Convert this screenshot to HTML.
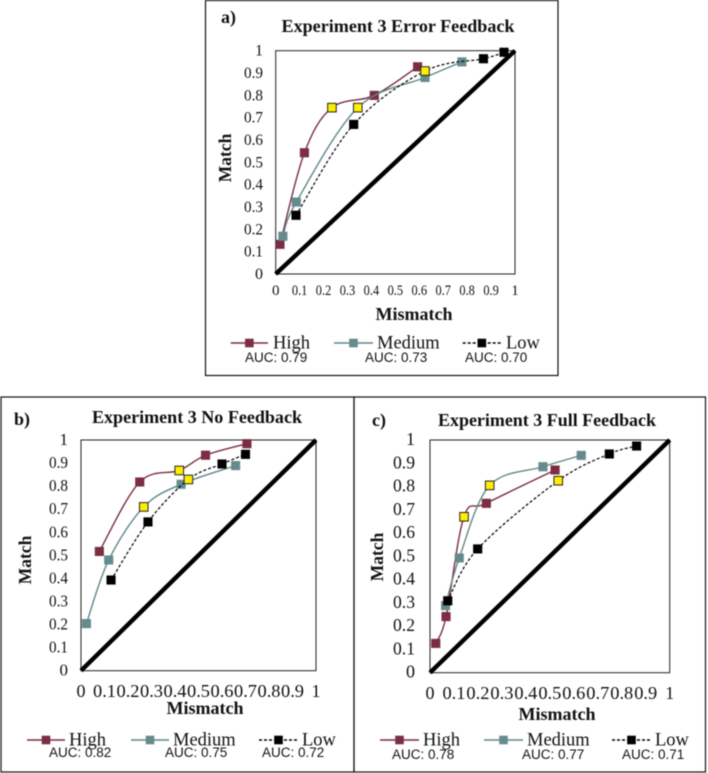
<!DOCTYPE html>
<html lang="en">
<head>
<meta charset="utf-8">
<title>Experiment 3 ROC Curves</title>
<style>
html,body{margin:0;padding:0;background:#fff;width:708px;height:773px;overflow:hidden}
svg{display:block;filter:blur(0.45px)}
text{fill:#111;font-family:"Liberation Serif",serif}
.title,.axis{font-weight:bold}
.letter{font-weight:bold;font-size:18px}
.auc{font-family:"Liberation Sans",sans-serif;font-size:13.5px}
.leg{font-size:18.5px}
</style>
</head>
<body>
<svg id="fig" width="708" height="773" viewBox="0 0 708 773" xmlns="http://www.w3.org/2000/svg">
  <g fill="none" stroke="#111" stroke-width="1.2">
    <rect x="205.5" y="0.5" width="352.5" height="375"/>
    <rect x="1" y="397" width="353" height="375"/>
    <rect x="354" y="397" width="351.5" height="375"/>
  </g>
  <g id="panel-a">
    <text class="letter" x="221" y="23">a)</text>
    <text class="title" x="398" y="32" text-anchor="middle" font-size="17.5" textLength="233" lengthAdjust="spacingAndGlyphs">Experiment 3 Error Feedback</text>
    <text class="axis" x="414" y="320" text-anchor="middle" font-size="18">Mismatch</text>
    <text class="axis" transform="translate(231,158) rotate(-90)" text-anchor="middle" font-size="17.5">Match</text>
    <text class="auc" x="245" y="362">AUC: 0.79</text>
    <text class="auc" x="365" y="362">AUC: 0.73</text>
    <text class="auc" x="465" y="362">AUC: 0.70</text>
  </g>
  <g id="panel-b">
    <text class="letter" x="14" y="425">b)</text>
    <text class="title" x="197" y="423" text-anchor="middle" font-size="17.5" textLength="210" lengthAdjust="spacingAndGlyphs">Experiment 3 No Feedback</text>
    <text class="axis" x="205" y="714" text-anchor="middle" font-size="18">Mismatch</text>
    <text class="axis" transform="translate(31,560) rotate(-90)" text-anchor="middle" font-size="17.5">Match</text>
    <text class="auc" x="49" y="757">AUC: 0.82</text>
    <text class="auc" x="165" y="757">AUC: 0.75</text>
    <text class="auc" x="262" y="757">AUC: 0.72</text>
  </g>
  <g id="panel-c">
    <text class="letter" x="372" y="426">c)</text>
    <text class="title" x="547" y="426" text-anchor="middle" font-size="17.5" textLength="218" lengthAdjust="spacingAndGlyphs">Experiment 3 Full Feedback</text>
    <text class="axis" x="557" y="720" text-anchor="middle" font-size="18">Mismatch</text>
    <text class="axis" transform="translate(383,557) rotate(-90)" text-anchor="middle" font-size="17.5">Match</text>
    <text class="auc" x="392" y="759">AUC: 0.78</text>
    <text class="auc" x="522" y="759">AUC: 0.77</text>
    <text class="auc" x="622" y="759">AUC: 0.71</text>
  </g>
</svg>
<script>
const tickLabels = ['0','0.1','0.2','0.3','0.4','0.5','0.6','0.7','0.8','0.9','1'];
const tickValues = [0,0.1,0.2,0.3,0.4,0.5,0.6,0.7,0.8,0.9,1];
const seriesNames = ['High','Medium','Low'];

const aHighX = [0.018,0.12,0.235,0.412,0.593];
const aHighY = [0.133,0.543,0.745,0.80,0.928];
const aMediumX = [0.03,0.086,0.343,0.624,0.778];
const aMediumY = [0.169,0.322,0.745,0.88,0.95];
const aLowX = [0.085,0.326,0.624,0.868,0.954];
const aLowY = [0.263,0.67,0.909,0.964,0.993];

const bHighX = [0.078,0.25,0.418,0.53,0.706];
const bHighY = [0.517,0.818,0.868,0.934,0.984];
const bMediumX = [0.023,0.118,0.267,0.426,0.658];
const bMediumY = [0.204,0.48,0.71,0.808,0.889];
const bLowX = [0.128,0.285,0.457,0.6,0.70];
const bLowY = [0.393,0.645,0.829,0.896,0.938];

const cHighX = [0.024,0.067,0.142,0.235,0.522];
const cHighY = [0.126,0.241,0.67,0.728,0.871];
const cMediumX = [0.065,0.122,0.249,0.471,0.631];
const cMediumY = [0.288,0.493,0.805,0.885,0.934];
const cLowX = [0.074,0.199,0.535,0.748,0.862];
const cLowY = [0.309,0.532,0.825,0.94,0.974];

/* index of the point highlighted in yellow (the same in every series) */
const highlightIndex = 2;

const NS = 'http://www.w3.org/2000/svg';
const COLORS = {High:'#7b2d42', Medium:'#5f8789', Low:'#000'};
const MARKS = {High:'#7b2d42', Medium:'#668b8d', Low:'#000'};
const MARK = 8.6;

const panels = [
  {id:'panel-a', left:275.7, right:515, top:50.7, bottom:274, xBase:295, yRight:263, xFont:15, yFont:16, xW:15.5, yW:19,
   data:[[aHighX,aHighY],[aMediumX,aMediumY],[aLowX,aLowY]],
   legY:343, legBase:348.5, leg:[[230.7,268,273],[334,373,377],[462.7,501,506]]},
  {id:'panel-b', left:81, right:316, top:440, bottom:670.7, xBase:697, yRight:68, xFont:18, yFont:17, xW:23, yW:19,
   data:[[bHighX,bHighY],[bMediumX,bMediumY],[bLowX,bLowY]],
   legY:740, legBase:745.7, leg:[[27,65,69],[131,169,173],[259,298,302]]},
  {id:'panel-c', left:430, right:669.7, top:440, bottom:672.7, xBase:699, yRight:415, xFont:18, yFont:18, xW:23, yW:22,
   data:[[cHighX,cHighY],[cMediumX,cMediumY],[cLowX,cLowY]],
   legY:740, legBase:745.7, leg:[[380,419,423],[484,523,527],[612,651,655]]}
];

function make(tag, attrs, parent){
  const el = document.createElementNS(NS, tag);
  for (const k in attrs) el.setAttribute(k, attrs[k]);
  parent.appendChild(el);
  return el;
}

function smoothPath(pts){
  let d = 'M' + pts[0][0] + ' ' + pts[0][1];
  for (let i = 0; i < pts.length - 1; i++){
    const p0 = pts[Math.max(i-1,0)], p1 = pts[i], p2 = pts[i+1], p3 = pts[Math.min(i+2,pts.length-1)];
    const c1x = p1[0] + (p2[0]-p0[0])/6, c1y = p1[1] + (p2[1]-p0[1])/6;
    const c2x = p2[0] - (p3[0]-p1[0])/6, c2y = p2[1] - (p3[1]-p1[1])/6;
    d += 'C' + c1x + ' ' + c1y + ' ' + c2x + ' ' + c2y + ' ' + p2[0] + ' ' + p2[1];
  }
  return d;
}

panels.forEach(function(p){
  const g = document.getElementById(p.id);
  const sx = function(v){ return p.left + v*(p.right-p.left); };
  const sy = function(v){ return p.bottom - v*(p.bottom-p.top); };

  const plot = make('rect',{x:p.left,y:p.top,width:p.right-p.left,height:p.bottom-p.top,fill:'#fff',stroke:'#222','stroke-width':1},g);
  
  

  const diag = make('line',{x1:sx(0),y1:sy(0),x2:sx(1),y2:sy(1),stroke:'#000','stroke-width':4.4},g);
  
  

  tickLabels.forEach(function(label,i){
    const xt = make('text',{x:sx(tickValues[i]),y:p.xBase,'text-anchor':'middle','font-size':p.xFont},g);
    if (label.length > 1){ xt.setAttribute('textLength',p.xW); xt.setAttribute('lengthAdjust','spacingAndGlyphs'); }
    xt.textContent = label;
    
    

    const yt = make('text',{x:p.yRight,y:sy(tickValues[i])+5,'text-anchor':'end','font-size':p.yFont},g);
    if (label.length > 1){ yt.setAttribute('textLength',p.yW); yt.setAttribute('lengthAdjust','spacingAndGlyphs'); }
    yt.textContent = label;
    
    
  });

  seriesNames.forEach(function(name,s){
    const xs = p.data[s][0], ys = p.data[s][1];
    const pts = xs.map(function(v,i){ return [sx(v),sy(ys[i])]; });
    const dash = name === 'Low' ? '3 2' : 'none';

    const line = make('path',{d:smoothPath(pts),fill:'none',stroke:COLORS[name],'stroke-width':name==='Low'?1.2:1.4,'stroke-dasharray':dash},g);
    
    

    pts.forEach(function(pt,i){
      const hi = i === highlightIndex;
      const m = make('rect',{x:pt[0]-MARK/2,y:pt[1]-MARK/2,width:MARK,height:MARK,fill:hi?'#ffee00':MARKS[name],stroke:hi?'#222':MARKS[name],'stroke-width':hi?1:0.5},g);
      
      
    });

    const l = p.leg[s];
    const legLine = make('line',{x1:l[0],y1:p.legY,x2:l[1],y2:p.legY,stroke:COLORS[name],'stroke-width':1.4,'stroke-dasharray':dash},g);
    
    

    const mid = (l[0]+l[1])/2;
    const legMark = make('rect',{x:mid-MARK/2,y:p.legY-MARK/2,width:MARK,height:MARK,fill:MARKS[name]},g);
    
    

    const legText = make('text',{x:l[2],y:p.legBase,'class':'leg'},g);
    legText.textContent = name;
    
    
  });
});
</script>
</body>
</html>
